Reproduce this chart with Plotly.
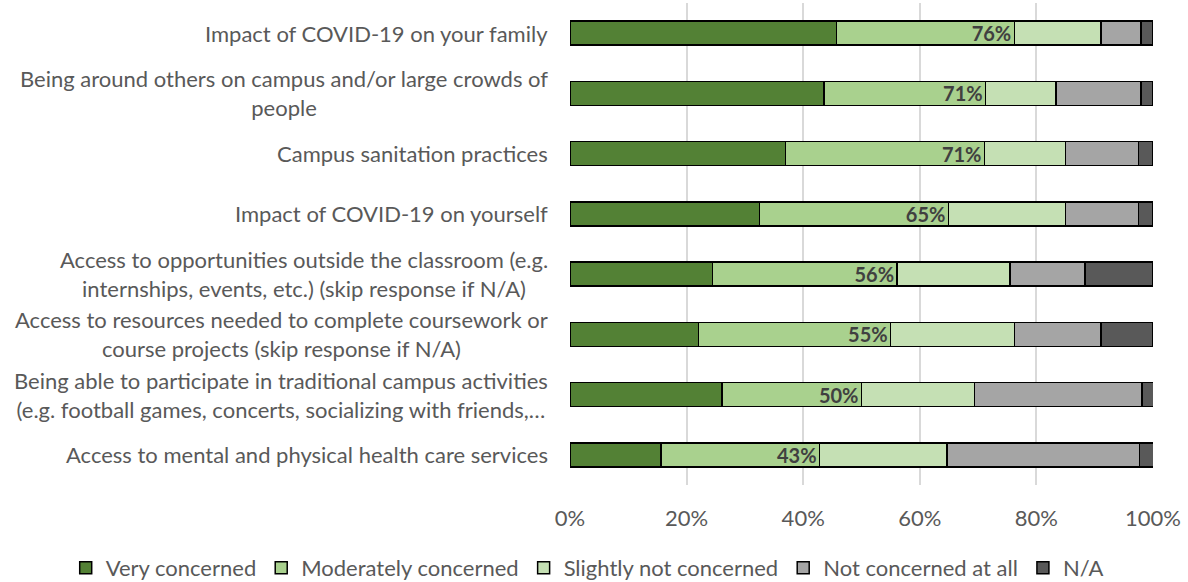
import plotly.graph_objects as go

categories = [
    "Impact of COVID-19 on your family",
    "Being around others on campus and/or large crowds of<br>people",
    "Campus sanitation practices",
    "Impact of COVID-19 on yourself",
    "Access to opportunities outside the classroom (e.g.<br>internships, events, etc.) (skip response if N/A)",
    "Access to resources needed to complete coursework or<br>course projects (skip response if N/A)",
    "Being able to participate in traditional campus activities<br>(e.g. football games, concerts, socializing with friends,…",
    "Access to mental and physical health care services",
]
very = [45.7, 43.6, 37.0, 32.5, 24.4, 22.0, 26.1, 15.6]
moderate = [30.5, 27.7, 34.1, 32.4, 31.7, 33.0, 23.9, 27.2]
slightly = [14.9, 12.1, 13.9, 20.1, 19.4, 21.2, 19.4, 21.9]
not_at_all = [6.8, 14.5, 12.5, 12.5, 12.8, 14.9, 28.7, 33.0]
na = [2.1, 2.1, 2.5, 2.5, 11.7, 8.9, 2.1, 2.5]
combined_labels = ["76%", "71%", "71%", "65%", "56%", "55%", "50%", "43%"]

series = [
    ("Very concerned", very, "#538135"),
    ("Moderately concerned", moderate, "#A9D18E"),
    ("Slightly not concerned", slightly, "#C5E0B4"),
    ("Not concerned at all", not_at_all, "#A5A5A5"),
    ("N/A", na, "#595959"),
]

FONT = "Lato"
FS = 22
ykeys = list(range(len(categories)))

fig = go.Figure()
for name, vals, color in series:
    kw = {}
    if name == "Moderately concerned":
        kw = dict(
            text=combined_labels,
            textposition="inside",
            insidetextanchor="end",
            textangle=0,
            constraintext="none",
            textfont=dict(family=FONT, size=20, color="#404040", weight="bold"),
        )
    fig.add_trace(go.Bar(
        y=ykeys, x=vals, name=name, orientation="h",
        marker=dict(color=color, line=dict(color="#000000", width=1.5)),
        width=0.4, hoverinfo="skip", **kw,
    ))

for i, c in enumerate(categories):
    fig.add_annotation(
        x=0, xref="paper", y=i, yref="y", text=c, showarrow=False,
        xanchor="right", yanchor="middle", align="center", xshift=-20,
        font=dict(family=FONT, size=FS, color="#595959"),
    )

fig.update_layout(
    barmode="stack",
    width=1188, height=582,
    margin=dict(l=570, r=35, t=3, b=97, autoexpand=False),
    plot_bgcolor="white", paper_bgcolor="white",
    font=dict(family=FONT, size=FS, color="#595959"),
    uniformtext=dict(minsize=20, mode="show"),
    xaxis=dict(
        range=[0, 100], tickvals=[0, 20, 40, 60, 80, 100],
        ticktext=["0%", "20%", "40%", "60%", "80%", "100%"],
        showgrid=True, gridcolor="#D9D9D9", gridwidth=1.5,
        zeroline=False, showline=False, ticks="outside", ticklen=14,
        tickcolor="rgba(0,0,0,0)", automargin=False,
        tickfont=dict(family=FONT, size=FS, color="#595959"),
    ),
    yaxis=dict(
        range=[len(categories) - 0.5, -0.5], showticklabels=False,
        showgrid=False, zeroline=False, automargin=False,
    ),
    legend=dict(
        orientation="h", x=-0.865, xanchor="left", xref="paper",
        y=-0.172, yanchor="middle",
        font=dict(family=FONT, size=FS, color="#595959"),
        traceorder="normal", itemwidth=30,
    ),
    showlegend=True,
)

fig.write_html(
    "out.html",
    config={"displayModeBar": False},
    post_script="document.body.style.margin='0';",
)
